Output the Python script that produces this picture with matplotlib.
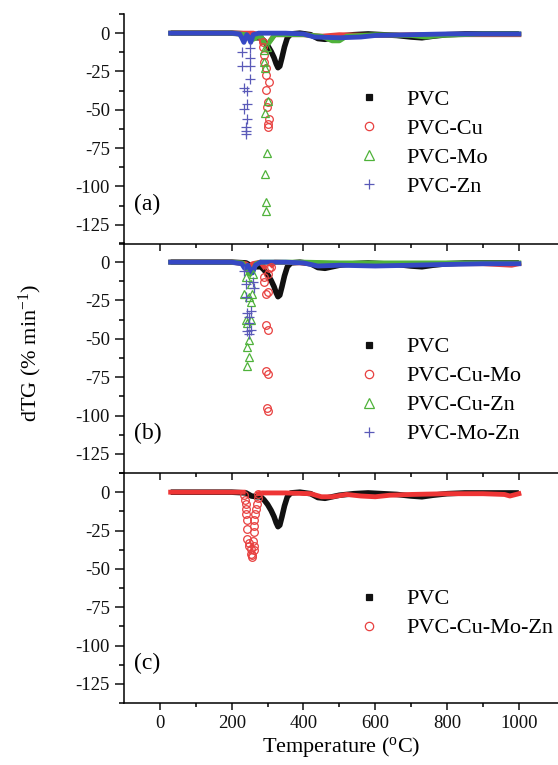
import matplotlib
matplotlib.use('Agg')
import matplotlib.pyplot as plt
from matplotlib.lines import Line2D
import numpy as np

plt.rcParams['font.family'] = ['Liberation Serif', 'DejaVu Serif']
plt.rcParams['mathtext.fontset'] = 'custom'
plt.rcParams['mathtext.rm'] = 'Liberation Serif'
plt.rcParams['mathtext.it'] = 'Liberation Serif:italic'
plt.rcParams['axes.unicode_minus'] = False

BLACK = '#111111'
RED = '#e8403f'
GREEN = '#4fb23a'
BLUE = '#3548c4'
PLUS = '#5a5ab8'

# ---- PVC (same reference curve in every panel) ----
pvc_t = [30, 100, 200, 240, 255, 270, 281, 290, 300, 310, 318, 324, 329, 334, 340, 347, 355, 365,
         390, 420, 440, 460, 480, 500, 540, 580, 620, 660, 700, 730, 760, 800, 850, 900, 950, 1000]
pvc_y = [0, 0, 0, -0.5, -2.5, -3, -3, -5, -8, -12, -16, -20, -22.5, -21.5, -16, -9, -3, -0.5,
         0, -1, -3.5, -4, -3, -2, -1, -0.5, -1, -1.5, -2.5, -3, -2, -1, -0.5, -0.5, -0.5, -0.5]

# ---- panel (a) ----
cu_t = [30, 150, 260, 275, 285, np.nan, 310, 320, 400, 450, 500, 600, 700, 800, 900, 1000]
cu_y = [0, 0, 0, -1, -6, np.nan, -4, -1, -1, -2, -1, -1.5, -1, -1, -1, -1]
cu_pt = [286, 288, 289, 290, 295, 295, 305, 295, 302, 298, 303, 300, 301]
cu_pv = [-6, -9, -14, -19, -23, -27, -32, -37, -45, -48, -56, -59, -61]

mo_t = [30, 200, 240, 250, 260, 268, 280, 290, np.nan, 305, 320, 400, 450, 480, 500, 520, 600, 700, 740, 780, 900, 1000]
mo_y = [0, 0, -1, -3, -4, -3, -1, -6, np.nan, -6, -1, -1, -2, -5, -5, -2, -1, -1.5, -2.5, -1.5, -0.5, -0.5]
mo_pt = [291, 298, 289, 292, 300, 293, 298, 293, 295, 295]
mo_pv = [-11, -9, -19, -23, -44, -52, -78, -92, -110, -116]

zn_t = [30, 200, 222, 228, 234, 242, 248, 253, 260, 275, 300, 350, 400, 430, 500, 560, 600, 700, 800, 900, 1000]
zn_y = [0, 0, -0.5, -3, -6, -1, -3, -6, -1, 0, 0, 0, -0.5, -2.5, -3, -2.5, -1.5, -1, -0.5, -0.5, -0.5]
zn_pt = [230, 251, 251, 230, 250, 250, 235, 244, 244, 235, 244, 240, 240, 241]
zn_pv = [-12, -10, -16, -21.5, -21.5, -30, -36, -37.5, -46, -49.5, -56, -61, -64, -66]

# ---- panel (b) ----
cumo_t = [30, 200, 240, 250, 258, 280, 290, np.nan, 312, 320, 400, 500, 600, 700, 800, 900, 980, 1000]
cumo_y = [0, 0, -1, -3, -1, 0, -3, np.nan, -2, 0, -0.5, -1, -1, -1, -1, -1, -2, -1]
cumo_pt = [309, 305, 302, 289, 291, 295, 300, 295, 302, 295, 302, 298, 300]
cumo_pv = [-3, -4, -7.5, -10, -13, -21, -19.5, -41, -44, -71, -73, -95, -97]

cuzn_t = [30, 200, 230, 240, 250, 258, 268, 280, 400, 500, 600, 700, 800, 900, 1000]
cuzn_y = [0, 0, -0.5, -4, -8, -6, -1, 0, 0, -0.5, -0.5, -0.5, -0.5, -0.5, -0.5]
cuzn_pt = [240, 258, 253, 235, 256, 249, 253, 240, 244, 253, 249, 244, 249, 244]
cuzn_pv = [-10, -8, -14, -21, -21, -23, -26, -38, -40, -38, -51, -55, -62, -68]

mozn_t = [30, 200, 228, 236, 245, 252, 258, 266, 280, 350, 400, 440, 500, 600, 700, 800, 900, 1000]
mozn_y = [0, 0, -1, -4, -2, -5, -7, -2, 0, 0, -0.5, -2.5, -2, -2.5, -2, -1.5, -1, -1]
mozn_pt = [235, 240, 258, 240, 261, 244, 253, 249, 249, 244, 249, 253]
mozn_pv = [-6, -14, -13, -23, -17, -33, -32, -36, -40, -45, -47, -44]

# ---- panel (c) ----
all_t = [30, 200, 232, np.nan, 274, 285, 350, 420, 450, 480, 520, 560, 600, 640, 700, 800, 900, 960, 975, 1000]
all_y = [0, 0, 0, np.nan, -1, -0.5, -0.5, -1, -3, -3, -1.5, -2.5, -3, -2, -1.5, -1, -1, -1.5, -2.5, -1]
all_pt = [235, 238, 240, 240, 241, 242, 244, 244, 247, 249, 253, 255, 256,
          272, 274, 270, 267, 265, 263, 261, 261, 258, 263, 261, 256]
all_pv = [-2, -5, -8, -11, -14.5, -18, -24, -30.5, -33, -35, -37, -40, -42.5,
          -1, -4, -7.5, -11, -14, -18, -22, -26, -32, -35, -38, -41]

STY = {
    'PVC': dict(color=BLACK, marker='s', mfc=BLACK, ms=5),
    'Cu': dict(color=RED, marker='o', mfc='none', ms=6),
    'Mo': dict(color=GREEN, marker='^', mfc='none', ms=6.5),
    'Zn': dict(color=PLUS, marker='+', mfc='none', ms=6.5),
}

fig = plt.figure(figsize=(5.58, 7.65), dpi=100)
left, right = 124 / 558, 1.0
tops = [14, 243, 473]
h = 230
axes = []
for t in tops:
    ax = fig.add_axes([left, 1 - (t + h) / 765, right - left, h / 765])
    ax.patch.set_visible(False)
    axes.append(ax)


def draw_pvc(ax):
    ax.plot(pvc_t, pvc_y, color=BLACK, lw=4, solid_capstyle='butt', zorder=2)


def draw(ax, t, y, pt, pv, col, marker, ms, lcol=None, z=3):
    ax.plot(t, y, color=lcol or col, lw=3.5, zorder=z)
    ax.plot(pt, pv, ls='none', marker=marker, ms=ms, mfc='none', mec=col, mew=0.9, zorder=z + 1)


ax = axes[0]
draw_pvc(ax)
draw(ax, cu_t, cu_y, cu_pt, cu_pv, RED, 'o', 5.5)
draw(ax, mo_t, mo_y, mo_pt, mo_pv, GREEN, '^', 6)
draw(ax, zn_t, zn_y, zn_pt, zn_pv, PLUS, '+', 6.5, lcol=BLUE)
labels_a = ['PVC', 'PVC-Cu', 'PVC-Mo', 'PVC-Zn']
keys_a = ['PVC', 'Cu', 'Mo', 'Zn']

ax = axes[1]
draw_pvc(ax)
draw(ax, cumo_t, cumo_y, cumo_pt, cumo_pv, RED, 'o', 5.5)
draw(ax, cuzn_t, cuzn_y, cuzn_pt, cuzn_pv, GREEN, '^', 6)
draw(ax, mozn_t, mozn_y, mozn_pt, mozn_pv, PLUS, '+', 6.5, lcol=BLUE)
labels_b = ['PVC', 'PVC-Cu-Mo', 'PVC-Cu-Zn', 'PVC-Mo-Zn']

ax = axes[2]
draw_pvc(ax)
draw(ax, all_t, all_y, all_pt, all_pv, RED, 'o', 5.5, lcol='#ee3535')
labels_c = ['PVC', 'PVC-Cu-Mo-Zn']

legend_y = [0.711, 0.631, 0.535]
all_labels = [labels_a, labels_b, labels_c]
all_keys = [keys_a, keys_a, ['PVC', 'Cu']]
tags = ['(a)', '(b)', '(c)']

for i, ax in enumerate(axes):
    ax.set_xlim(-100, 1109)
    ax.set_ylim(-137.5, 12.5)
    ax.set_xticks(range(0, 1001, 200))
    ax.set_xticks(range(100, 1001, 200), minor=True)
    ax.set_yticks([0, -25, -50, -75, -100, -125])
    ax.set_yticks(np.arange(-137.5, 12.6, 12.5), minor=True)
    ax.spines[['top', 'right']].set_visible(False)
    for s in ['left', 'bottom']:
        ax.spines[s].set_linewidth(1.1)
        ax.spines[s].set_zorder(10)
    ax.tick_params(axis='both', which='major', direction='out', width=1.1, labelsize=13.5, colors=BLACK)
    ax.tick_params(axis='x', which='major', length=5)
    ax.tick_params(axis='x', which='minor', length=3, width=1.1)
    ax.tick_params(axis='y', which='major', length=6.5)
    ax.tick_params(axis='y', which='minor', length=3.5, width=1.1)
    if i < 2:
        ax.tick_params(axis='x', labelbottom=False)
    ax.text(-73, -112, tags[i], fontsize=17, va='center', ha='left')
    handles = []
    for k, lab in zip(all_keys[i], all_labels[i]):
        st = STY[k]
        handles.append(Line2D([], [], ls='none', marker=st['marker'], ms=st['ms'],
                              mfc=st['mfc'], mec=st['color'], mew=0.9, label=lab))
    ax.legend(handles=handles, loc='upper left', bbox_to_anchor=(0.518, legend_y[i]),
              frameon=False, fontsize=16, handlelength=1.0, handletextpad=1.18,
              labelspacing=0.38, borderaxespad=0)

axes[2].set_xlabel('Temperature ($^{\\rm o}$C)', fontsize=16, labelpad=2)
fig.text(0.054, 0.539, 'dTG (% min$^{-1}$)', rotation=90, fontsize=16, ha='center', va='center')

fig.savefig('out.png', dpi=100, facecolor='white')
